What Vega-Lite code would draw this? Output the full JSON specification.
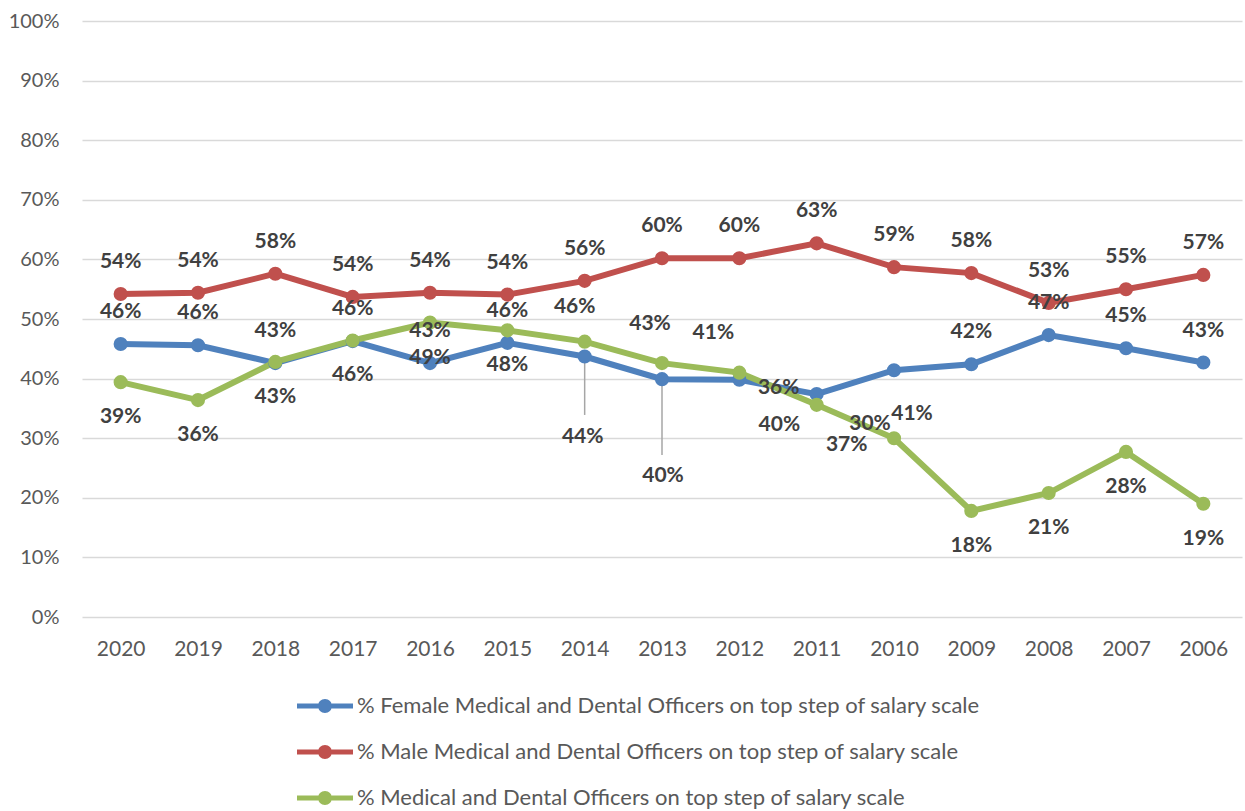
{
  "$schema": "https://vega.github.io/schema/vega-lite/v6.json",
  "width": 1160,
  "height": 596,
  "autosize": {"type": "none"},
  "padding": {"left": 82, "top": 21, "right": 3, "bottom": 194},
  "background": "white",
  "config": {
    "view": {"stroke": null},
    "font": "Lato",
    "text": {"fontSize": 21, "fontWeight": "bold", "font": "Lato"},
    "axis": {"labelFont": "Lato", "labelFontSize": 20, "labelColor": "#595959", "ticks": false, "tickSize": 0, "domain": false, "title": null}
  },
  "data": {
    "values": [
      {"year": "2020", "Female": 0.458, "Male": 0.542, "All": 0.394},
      {"year": "2019", "Female": 0.456, "Male": 0.544, "All": 0.364},
      {"year": "2018", "Female": 0.426, "Male": 0.576, "All": 0.428},
      {"year": "2017", "Female": 0.463, "Male": 0.537, "All": 0.464},
      {"year": "2016", "Female": 0.426, "Male": 0.544, "All": 0.494},
      {"year": "2015", "Female": 0.460, "Male": 0.541, "All": 0.481},
      {"year": "2014", "Female": 0.437, "Male": 0.564, "All": 0.462},
      {"year": "2013", "Female": 0.399, "Male": 0.602, "All": 0.426},
      {"year": "2012", "Female": 0.398, "Male": 0.602, "All": 0.410},
      {"year": "2011", "Female": 0.374, "Male": 0.627, "All": 0.356},
      {"year": "2010", "Female": 0.414, "Male": 0.587, "All": 0.300},
      {"year": "2009", "Female": 0.424, "Male": 0.577, "All": 0.178},
      {"year": "2008", "Female": 0.473, "Male": 0.527, "All": 0.208},
      {"year": "2007", "Female": 0.451, "Male": 0.550, "All": 0.277},
      {"year": "2006", "Female": 0.427, "Male": 0.574, "All": 0.190}
    ]
  },
  "transform": [{"fold": ["Female", "Male", "All"], "as": ["series", "value"]}],
  "encoding": {
    "x": {
      "field": "year", "type": "ordinal", "sort": "descending",
      "scale": {"type": "point", "padding": 0.5},
      "axis": {"labelAngle": 0, "labelPadding": 21, "labelFontSize": 21, "grid": false}
    },
    "y": {
      "field": "value", "type": "quantitative",
      "scale": {"domain": [0, 1], "nice": false},
      "axis": {"values": [0, 0.1, 0.2, 0.3, 0.4, 0.5, 0.6, 0.7, 0.8, 0.9, 1], "format": ".0%", "labelPadding": 23, "grid": true, "gridColor": "#d9d9d9", "gridWidth": 1.5}
    },
    "color": {
      "field": "series", "type": "nominal",
      "scale": {"domain": ["Female", "Male", "All"], "range": ["#4f81bd", "#c0504d", "#9bbb59"]},
      "legend": {
        "orient": "none", "legendX": 215, "legendY": 657, "direction": "vertical", "title": null,
        "padding": 0, "rowPadding": 7, "labelOffset": 4, "labelFontSize": 22, "labelColor": "#595959", "labelLimit": 900,
        "symbolType": "M-1,-0.09L-0.24,-0.09L-0.24,0.09L-1,0.09Z M-0.25,0A0.25,0.25 0 1,1 0.25,0A0.25,0.25 0 1,1 -0.25,0Z M0.24,-0.09L1,-0.09L1,0.09L0.24,0.09Z",
        "symbolSize": 3136, "symbolStrokeWidth": 0, "symbolOpacity": 1,
        "labelExpr": "datum.label == 'Female' ? '% Female Medical and Dental Officers on top step of salary scale' : datum.label == 'Male' ? '% Male Medical and Dental Officers on top step of salary scale' : '% Medical and Dental Officers on top step of salary scale'",
        "encode": {"symbols": {"update": {"fill": {"scale": "color", "field": "value"}, "strokeWidth": {"value": 0}}}}
      }
    }
  },
  "layer": [
    {
      "transform": [{"filter": "datum.series == 'Female' && datum.year == '2014'"}],
      "mark": {"type": "rule", "color": "#a6a6a6", "strokeWidth": 1.5},
      "encoding": {
        "color": {"value": "#a6a6a6"},
        "y": {"field": "value", "type": "quantitative"},
        "y2": {"datum": 0.339}
      }
    },
    {
      "transform": [{"filter": "datum.series == 'Female' && datum.year == '2013'"}],
      "mark": {"type": "rule", "color": "#a6a6a6", "strokeWidth": 1.5},
      "encoding": {
        "color": {"value": "#a6a6a6"},
        "y": {"field": "value", "type": "quantitative"},
        "y2": {"datum": 0.272}
      }
    },
    {"mark": {"type": "line", "strokeWidth": 6}},
    {"mark": {"type": "point", "filled": true, "size": 200, "opacity": 1}},
    {
      "transform": [{"filter": "datum.series == 'Male'"}],
      "mark": {"type": "text", "dy": -32},
      "encoding": {"text": {"field": "value", "format": ".0%"}, "color": {"value": "#404040"}}
    },
    {
      "transform": [{"filter": "datum.series == 'Female' && indexof(['2014','2013','2012','2011','2010'], datum.year) < 0"}],
      "mark": {"type": "text", "dy": -32},
      "encoding": {"text": {"field": "value", "format": ".0%"}, "color": {"value": "#404040"}}
    },
    {
      "transform": [{"filter": "datum.series == 'All' && indexof(['2014','2013','2012','2011','2010'], datum.year) < 0"}],
      "mark": {"type": "text", "dy": 35},
      "encoding": {"text": {"field": "value", "format": ".0%"}, "color": {"value": "#404040"}}
    },
    {
      "transform": [{"filter": "datum.series == 'All' && datum.year == '2014'"}],
      "mark": {"type": "text", "dx": -10, "dy": -35},
      "encoding": {"text": {"field": "value", "format": ".0%"}, "color": {"value": "#404040"}}
    },
    {
      "transform": [{"filter": "datum.series == 'Female' && datum.year == '2014'"}],
      "mark": {"type": "text", "dx": -2, "dy": 80},
      "encoding": {"text": {"field": "value", "format": ".0%"}, "color": {"value": "#404040"}}
    },
    {
      "transform": [{"filter": "datum.series == 'All' && datum.year == '2013'"}],
      "mark": {"type": "text", "dx": -12, "dy": -39},
      "encoding": {"text": {"field": "value", "format": ".0%"}, "color": {"value": "#404040"}}
    },
    {
      "transform": [{"filter": "datum.series == 'Female' && datum.year == '2013'"}],
      "mark": {"type": "text", "dx": 1, "dy": 97},
      "encoding": {"text": {"field": "value", "format": ".0%"}, "color": {"value": "#404040"}}
    },
    {
      "transform": [{"filter": "datum.series == 'All' && datum.year == '2012'"}],
      "mark": {"type": "text", "dx": -26, "dy": -40},
      "encoding": {"text": {"field": "value", "format": ".0%"}, "color": {"value": "#404040"}}
    },
    {
      "transform": [{"filter": "datum.series == 'Female' && datum.year == '2012'"}],
      "mark": {"type": "text", "dx": 40, "dy": 45},
      "encoding": {"text": {"field": "value", "format": ".0%"}, "color": {"value": "#404040"}}
    },
    {
      "transform": [{"filter": "datum.series == 'All' && datum.year == '2011'"}],
      "mark": {"type": "text", "dx": -38, "dy": -17},
      "encoding": {"text": {"field": "value", "format": ".0%"}, "color": {"value": "#404040"}}
    },
    {
      "transform": [{"filter": "datum.series == 'Female' && datum.year == '2011'"}],
      "mark": {"type": "text", "dx": 30, "dy": 51},
      "encoding": {"text": {"field": "value", "format": ".0%"}, "color": {"value": "#404040"}}
    },
    {
      "transform": [{"filter": "datum.series == 'All' && datum.year == '2010'"}],
      "mark": {"type": "text", "dx": -24, "dy": -14},
      "encoding": {"text": {"field": "value", "format": ".0%"}, "color": {"value": "#404040"}}
    },
    {
      "transform": [{"filter": "datum.series == 'Female' && datum.year == '2010'"}],
      "mark": {"type": "text", "dx": 18, "dy": 44},
      "encoding": {"text": {"field": "value", "format": ".0%"}, "color": {"value": "#404040"}}
    }
  ]
}
